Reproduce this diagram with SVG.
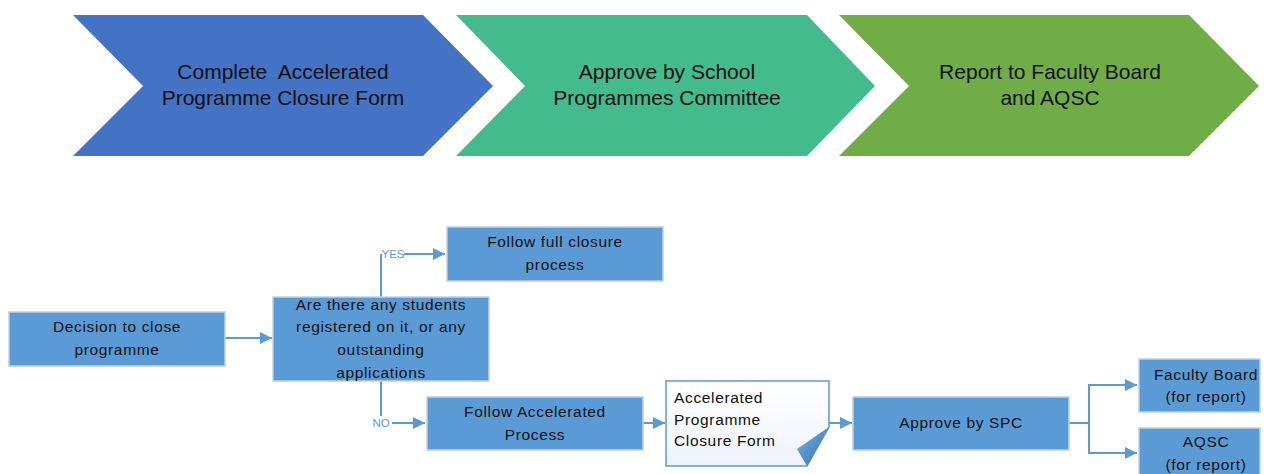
<svg xmlns="http://www.w3.org/2000/svg" width="1271" height="474" viewBox="0 0 1271 474">
<style>
.ch{font-family:"Liberation Sans",Arial,sans-serif;font-size:21px;fill:#111;text-anchor:middle}
.bx{fill:#5B9BD5;stroke:#C4CFDC;stroke-width:1.5}
.t{font-family:"Liberation Sans",Arial,sans-serif;font-size:15.5px;letter-spacing:0.65px;fill:#111;text-anchor:middle}
.tl{font-family:"Liberation Sans",Arial,sans-serif;font-size:15.5px;letter-spacing:0.65px;fill:#111}
.lb{font-family:"Liberation Sans",Arial,sans-serif;font-size:11.5px;fill:#5B9BD5;text-anchor:middle}
.cn{fill:none;stroke:#5B9BD5;stroke-width:2}
</style>
<defs>
<marker id="ah" markerUnits="userSpaceOnUse" markerWidth="14" markerHeight="14" refX="12" refY="6" orient="auto">
<path d="M0,0 L12,6 L0,12 Z" fill="#5B9BD5"/>
</marker>
<linearGradient id="docg" x1="0" y1="0" x2="0" y2="1">
<stop offset="0" stop-color="#FFFFFF"/>
<stop offset="1" stop-color="#EEF3FA"/>
</linearGradient>
<linearGradient id="curl" x1="0" y1="0" x2="1" y2="1">
<stop offset="0" stop-color="#7EB1E3"/>
<stop offset="1" stop-color="#2F6FB0"/>
</linearGradient>
</defs>

<g id="chevron1">
<polygon points="73,15 423,15 493,86 423,156 73,156 143,86" fill="#4472C4"/>
<text class="ch" x="283" y="79" xml:space="preserve">Complete  Accelerated</text>
<text class="ch" x="283" y="105">Programme Closure Form</text>
</g>
<g id="chevron2">
<polygon points="456,15 807,15 875,86 807,156 456,156 525,86" fill="#44BB8C"/>
<text class="ch" x="667" y="79">Approve by School</text>
<text class="ch" x="667" y="105">Programmes Committee</text>
</g>
<g id="chevron3">
<polygon points="839,15 1189,15 1259,86 1189,156 839,156 909,86" fill="#70AD47"/>
<text class="ch" x="1050" y="79">Report to Faculty Board</text>
<text class="ch" x="1050" y="105">and AQSC</text>
</g>

<g id="connectors">
<line class="cn" x1="225" y1="338" x2="272" y2="338" marker-end="url(#ah)"/>
<polyline class="cn" points="381,297 381,254"/>
<line class="cn" x1="404" y1="254" x2="445" y2="254" marker-end="url(#ah)"/>
<text class="lb" x="393" y="258">YES</text>
<polyline class="cn" points="381,381 381,416"/>
<line class="cn" x1="392" y1="423" x2="425" y2="423" marker-end="url(#ah)"/>
<text class="lb" x="381" y="427">NO</text>
<line class="cn" x1="643" y1="423" x2="665" y2="423" marker-end="url(#ah)"/>
<line class="cn" x1="829" y1="423" x2="852" y2="423" marker-end="url(#ah)"/>
<polyline class="cn" points="1069,423 1089,423"/>
<polyline class="cn" points="1089,385 1089,453"/>
<line class="cn" x1="1088" y1="385" x2="1137" y2="385" marker-end="url(#ah)"/>
<line class="cn" x1="1088" y1="453" x2="1137" y2="453" marker-end="url(#ah)"/>
</g>

<g id="decision">
<rect class="bx" x="9" y="312" width="216" height="54"/>
<text class="t" x="117" y="332">Decision to close</text>
<text class="t" x="117" y="355">programme</text>
</g>
<g id="question">
<rect class="bx" x="273" y="297" width="216" height="84"/>
<text class="t" x="381" y="310">Are there any students</text>
<text class="t" x="381" y="332">registered on it, or any</text>
<text class="t" x="381" y="355">outstanding</text>
<text class="t" x="381" y="378">applications</text>
</g>
<g id="fullclosure">
<rect class="bx" x="447" y="227" width="216" height="54"/>
<text class="t" x="555" y="247">Follow full closure</text>
<text class="t" x="555" y="270">process</text>
</g>
<g id="accelerated">
<rect class="bx" x="427" y="397" width="216" height="53"/>
<text class="t" x="535" y="417">Follow Accelerated</text>
<text class="t" x="535" y="440">Process</text>
</g>
<g id="form">
<path d="M666,381 H829 V427 L807,466 H666 Z" fill="url(#docg)" stroke="#5B9BD5" stroke-width="1.5"/>
<path d="M829,427 L797,449 L807,466 Z" fill="url(#curl)"/>
<text class="tl" x="674" y="403">Accelerated</text>
<text class="tl" x="674" y="425">Programme</text>
<text class="tl" x="674" y="446">Closure Form</text>
</g>
<g id="spc">
<rect class="bx" x="853" y="397" width="216" height="53"/>
<text class="t" x="961" y="428">Approve by SPC</text>
</g>
<g id="facultyboard">
<rect class="bx" x="1139" y="359" width="121" height="53"/>
<text class="t" x="1206" y="380">Faculty Board</text>
<text class="t" x="1206" y="402">(for report)</text>
</g>
<g id="aqsc">
<rect class="bx" x="1139" y="428" width="121" height="53"/>
<text class="t" x="1206" y="447">AQSC</text>
<text class="t" x="1206" y="470">(for report)</text>
</g>
</svg>
